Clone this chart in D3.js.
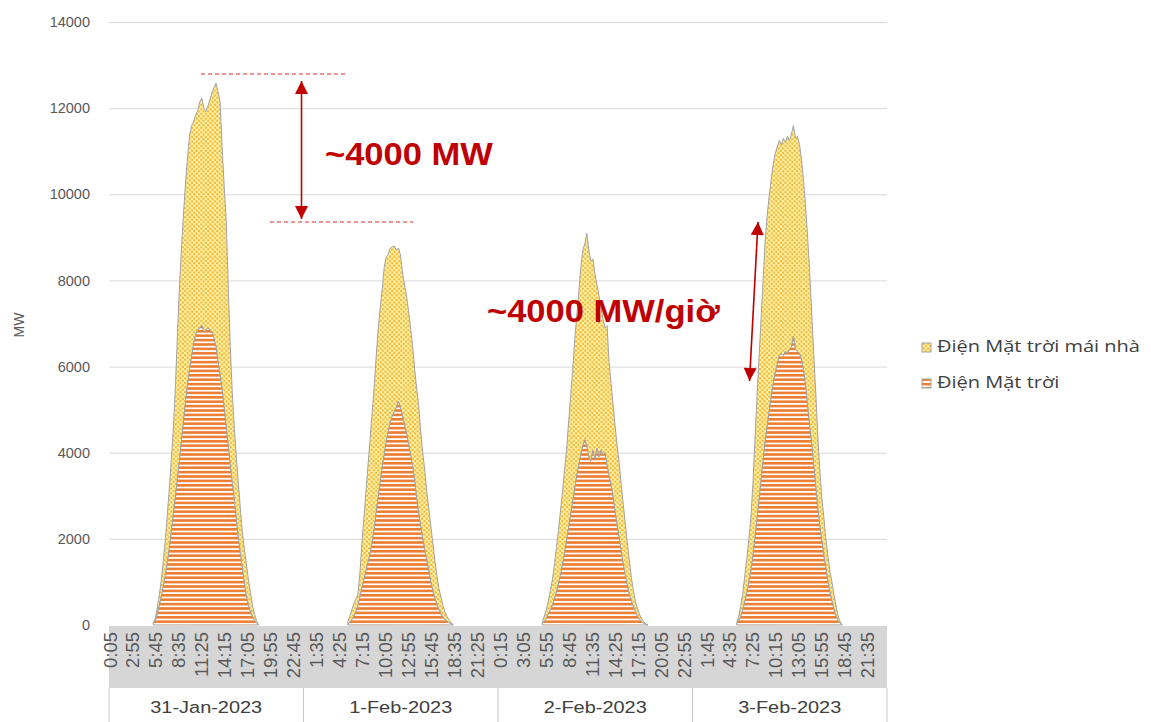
<!DOCTYPE html>
<html><head><meta charset="utf-8">
<script src="https://cdn.jsdelivr.net/npm/d3@7"></script>
<style>body{margin:0;background:#fff} svg{display:block}</style>
</head><body>
<svg id="chart" width="1151" height="722"></svg>
<script>
// ---------- DATA ----------
const days = ["31-Jan-2023","1-Feb-2023","2-Feb-2023","3-Feb-2023"];
const seriesNames = ["Điện Mặt trời mái nhà","Điện Mặt trời"];
const yTicks = [0,2000,4000,6000,8000,10000,12000,14000];
const tickLabels = ["0:05","2:55","5:45","8:35","11:25","14:15","17:05","19:55","22:45",
  "1:35","4:25","7:15","10:05","12:55","15:45","18:35","21:25",
  "0:15","3:05","5:55","8:45","11:35","14:25","17:15","20:05","22:55",
  "1:45","4:35","7:25","10:15","13:05","15:55","18:45","21:35"];
const timeSlots = ["5:30","5:45","6:00","6:15","6:30","6:45","7:00","7:15","7:30","7:45",
  "8:00","8:15","8:30","8:45","9:00","9:15","9:30","9:45","10:00","10:15",
  "10:30","10:45","11:00","11:15","11:30","11:45","12:00","12:15","12:30","12:45",
  "13:00","13:15","13:30","13:45","14:00","14:15","14:30","14:45","15:00","15:15",
  "15:30","15:45","16:00","16:15","16:30","16:45","17:00","17:15","17:30","17:45",
  "18:00","18:15","18:30"];
const solar31Jan = [30,100,250,450,650,900,1150,1450,1800,2200, 2600,3000,3400,3850,4300,4750,5200,5600,5950,6250,
  6550,6750,6850,6900,6950,6800,6850,6900,6850,6800, 6650,6450,6100,5800,5450,5050,4600,4150,3700,3300,
  2900,2450,2000,1650,1300,950,650,450,300,180, 100,50,0];
const rooftop31Jan = [20,50,150,250,400,600,850,1150,1400,1700, 2000,2600,3400,4050,4500,4850,5100,5300,5450,5350,
  5150,5100,5100,5250,5280,5200,5070,5150,5350,5550, 5830,6130,6280,6350,5650,5150,4800,3750,2800,2100,
  1700,1450,1300,1050,850,800,750,600,450,270, 150,50,0];
const solar1Feb = [30,60,120,200,300,450,650,850,1050,1250, 1450,1650,1900,2200,2600,2950,3300,3650,3950,4250,
  4500,4700,4850,4950,5050,5200,5050,4850,4650,4450, 4200,3950,3700,3350,2950,2600,2300,2000,1750,1500,
  1250,1000,800,620,480,360,260,180,120,80, 50,30,0];
const rooftop1Feb = [50,140,230,300,300,250,550,1050,1450,1850, 2250,2650,3000,3300,3600,3900,4050,4150,4350,4300,
  4100,4050,3930,3850,3650,3550,3550,3350,3250,3200, 3100,2950,2800,2600,2550,2500,2200,2000,1850,1600,
  1450,1300,1100,880,670,490,390,270,180,120, 70,30,0];
const solar2Feb = [30,80,150,250,350,450,600,750,950,1150, 1400,1650,1950,2250,2550,2850,3150,3450,3700,3950,
  4150,4300,4150,3900,3800,4050,3850,4100,3900,4050, 3950,4000,3700,3450,3250,2950,2600,2300,2000,1700,
  1400,1150,900,700,550,420,300,200,130,80, 40,20,0];
const rooftop2Feb = [30,120,200,300,450,600,800,1050,1250,1500, 1700,1950,2100,2450,2750,3050,3450,3700,4000,4350,
  4550,4550,4950,4800,4650,4450,4300,3800,3750,3300, 3150,2900,3250,2650,2350,2150,2000,1850,1750,1550,
  1400,1200,1000,800,550,380,250,180,120,70, 40,10,0];
const solar3Feb = [30,100,200,350,550,750,1000,1250,1600,2000, 2450,2900,3350,3800,4250,4600,4950,5300,5600,5850,
  6050,6250,6300,6250,6350,6300,6400,6450,6700,6400, 6350,6300,6150,5900,5550,5050,4600,4200,3700,3200,
  2700,2300,1950,1600,1300,1000,750,550,350,200, 100,40,0];
const rooftop3Feb = [30,100,250,400,600,800,1000,1250,1700,2300, 2850,3300,3750,4200,4650,4900,5000,5050,5100,5100,
  5050,5000,4850,5050,4850,5050,4850,4950,4900,4900, 5000,4850,4650,4400,4150,3950,3600,3050,2600,2200,
  1700,1300,1000,900,700,600,500,450,350,250, 120,40,0];
const annotations = ["~4000 MW","~4000 MW/giờ"];

// ---------- CHART ----------
const svg = d3.select("#chart");
const W = 1151, H = 722;
const plot = {left:109, right:887, top:22, bottom:625};
const slotsPerDay = 288, totalSlots = 288*4;
const x = d3.scaleLinear().domain([0,totalSlots]).range([plot.left, plot.right]);
const y = d3.scaleLinear().domain([0,14000]).range([plot.bottom, plot.top]);
const slotMin = timeSlots.map(s => { const [h,m] = s.split(":").map(Number); return h*60+m; });
const slotOf = (di, t) => di*slotsPerDay + (t-5)/5 + 0.5;
const FONT = "Liberation Sans, Arial, sans-serif";

// horizontally stretch a text element to a target width (keeps anchor point)
function stretch(sel, target, anchorX, anchorY){
  const L = sel.node().getComputedTextLength();
  const sx = target / L;
  sel.attr("transform", `translate(${anchorX},${anchorY}) scale(${sx},1) translate(${-anchorX},${-anchorY})`);
  return sx;
}
function applyScale(sel, sx, anchorX, anchorY){
  sel.attr("transform", `translate(${anchorX},${anchorY}) scale(${sx},1) translate(${-anchorX},${-anchorY})`);
}

const defs = svg.append("defs");
const dots = defs.append("pattern").attr("id","dots").attr("patternUnits","userSpaceOnUse")
  .attr("width",4.6).attr("height",4.6);
dots.append("rect").attr("width",4.6).attr("height",4.6).attr("fill","#fff5a6");
dots.append("circle").attr("cx",1.15).attr("cy",1.15).attr("r",1.2).attr("fill","#f0b43a");
dots.append("circle").attr("cx",3.45).attr("cy",3.45).attr("r",1.2).attr("fill","#f0b43a");
const stripes = defs.append("pattern").attr("id","stripes").attr("patternUnits","userSpaceOnUse")
  .attr("width",8).attr("height",4.4);
stripes.append("rect").attr("width",8).attr("height",4.4).attr("fill","#ffffff");
stripes.append("rect").attr("width",8).attr("height",2.6).attr("fill","#ed7d31");

// gridlines
svg.append("g").attr("transform",`translate(${plot.left},0)`)
  .call(d3.axisLeft(y).tickValues(yTicks.slice(1)).tickSize(-(plot.right-plot.left)).tickFormat(""))
  .call(g => g.select(".domain").remove())
  .call(g => g.selectAll("line").attr("stroke","#d9d9d9"));

// y labels
svg.append("g").attr("transform",`translate(${plot.left},0)`)
  .call(d3.axisLeft(y).tickValues(yTicks).tickSize(0).tickPadding(19).tickFormat(d3.format("d")))
  .call(g => g.select(".domain").remove())
  .call(g => g.selectAll("text").attr("fill","#595959").style("font-family",FONT).style("font-size","14.5px"));

svg.append("text").attr("transform",`translate(24,325) rotate(-90)`)
  .attr("text-anchor","middle").attr("fill","#595959")
  .style("font-family",FONT).style("font-size","14px").text("MW");

// x-axis band
svg.append("rect").attr("x",plot.left).attr("y",plot.bottom+1).attr("width",plot.right-plot.left).attr("height",62)
  .attr("fill","#d6d6d6");

// areas
const dayData = [
  {solar: solar31Jan, rooftop: rooftop31Jan},
  {solar: solar1Feb, rooftop: rooftop1Feb},
  {solar: solar2Feb, rooftop: rooftop2Feb},
  {solar: solar3Feb, rooftop: rooftop3Feb}
];
const area = d3.area().x(p => x(p.data.slot)).y0(p => y(p[0])).y1(p => y(p[1]));
const gA = svg.append("g");
dayData.forEach((dd, di) => {
  const rows = slotMin.map((t,i) => ({slot: slotOf(di,t), solar: dd.solar[i], rooftop: dd.rooftop[i]}));
  const st = d3.stack().keys(["solar","rooftop"])(rows);
  gA.append("path").datum(st[1]).attr("d",area).attr("fill","url(#dots)")
    .attr("stroke","#a3a3a3").attr("stroke-width",1);
  gA.append("path").datum(st[0]).attr("d",area).attr("fill","url(#stripes)")
    .attr("stroke","#a3a3a3").attr("stroke-width",1);
});

// x tick labels
const xa = svg.append("g").attr("transform",`translate(0,${plot.bottom})`)
  .call(d3.axisBottom(x).tickValues(tickLabels.map((_,j) => j*34+0.5)).tickSize(0).tickFormat((d,j) => tickLabels[j]));
xa.select(".domain").remove();
xa.selectAll("text").attr("transform","rotate(-90)").attr("text-anchor","end")
  .attr("x",-7).attr("y",0).attr("dy","0.36em")
  .attr("fill","#595959").style("font-family",FONT).style("font-size","18.5px");

// day category boxes
const gd = svg.append("g");
d3.range(days.length+1).forEach(i => {
  gd.append("line").attr("x1",x(i*slotsPerDay)).attr("x2",x(i*slotsPerDay))
    .attr("y1",plot.bottom+63).attr("y2",H).attr("stroke","#c8c8c8");
});
let daySx = null;
days.forEach((d,i) => {
  const cx = x(i*slotsPerDay+slotsPerDay/2);
  const t = gd.append("text").attr("x",cx).attr("y",713).attr("text-anchor","middle")
    .attr("fill","#404040").style("font-family",FONT).style("font-size","16.5px").text(d);
  if (daySx === null) daySx = stretch(t, 112, cx, 713); else applyScale(t, daySx, cx, 713);
});

// legend
const lg = svg.append("g");
let legSx = null;
[{fill:"url(#dots)", y:347},{fill:"url(#stripes)", y:383}].forEach((it,i) => {
  lg.append("rect").attr("x",922).attr("y",it.y-4).attr("width",9).attr("height",9)
    .attr("fill",it.fill).attr("stroke","#a3a3a3");
  const t = lg.append("text").attr("x",937).attr("y",it.y+5).attr("fill","#404040")
    .style("font-family","Open Sans, sans-serif").style("font-size","16px").text(seriesNames[i]);
  if (legSx === null) legSx = stretch(t, 203, 937, it.y+5); else applyScale(t, legSx, 937, it.y+5);
});

// annotations
const red = "#c00000";
defs.append("marker").attr("id","ah").attr("viewBox","0 0 10 10").attr("refX",10).attr("refY",5)
  .attr("markerWidth",15).attr("markerHeight",13).attr("markerUnits","userSpaceOnUse").attr("orient","auto-start-reverse")
  .append("path").attr("d","M0,0 L10,5 L0,10 Z").attr("fill",red);
const ga = svg.append("g");
ga.append("line").attr("x1",201).attr("x2",345).attr("y1",74).attr("y2",74)
  .attr("stroke","#e0302a").attr("stroke-width",1.2).attr("stroke-dasharray","4,3");
ga.append("line").attr("x1",270).attr("x2",413).attr("y1",222).attr("y2",222)
  .attr("stroke","#e0302a").attr("stroke-width",1.2).attr("stroke-dasharray","4,3");
ga.append("line").attr("x1",301.5).attr("x2",301.5).attr("y1",81).attr("y2",219)
  .attr("stroke",red).attr("stroke-width",1.6).attr("marker-start","url(#ah)").attr("marker-end","url(#ah)");
ga.append("line").attr("x1",758).attr("x2",749.5).attr("y1",222).attr("y2",381)
  .attr("stroke",red).attr("stroke-width",1.6).attr("marker-start","url(#ah)").attr("marker-end","url(#ah)");
const a1 = ga.append("text").attr("x",325).attr("y",165).attr("fill",red)
  .style("font-family",FONT).style("font-weight","bold").style("font-size","31px").text(annotations[0]);
const annSx = stretch(a1, 168, 325, 165);
const a2 = ga.append("text").attr("x",487).attr("y",322).attr("fill",red)
  .style("font-family",FONT).style("font-weight","bold").style("font-size","31px").text(annotations[1]);
applyScale(a2, annSx, 487, 322);
</script>
</body></html>
